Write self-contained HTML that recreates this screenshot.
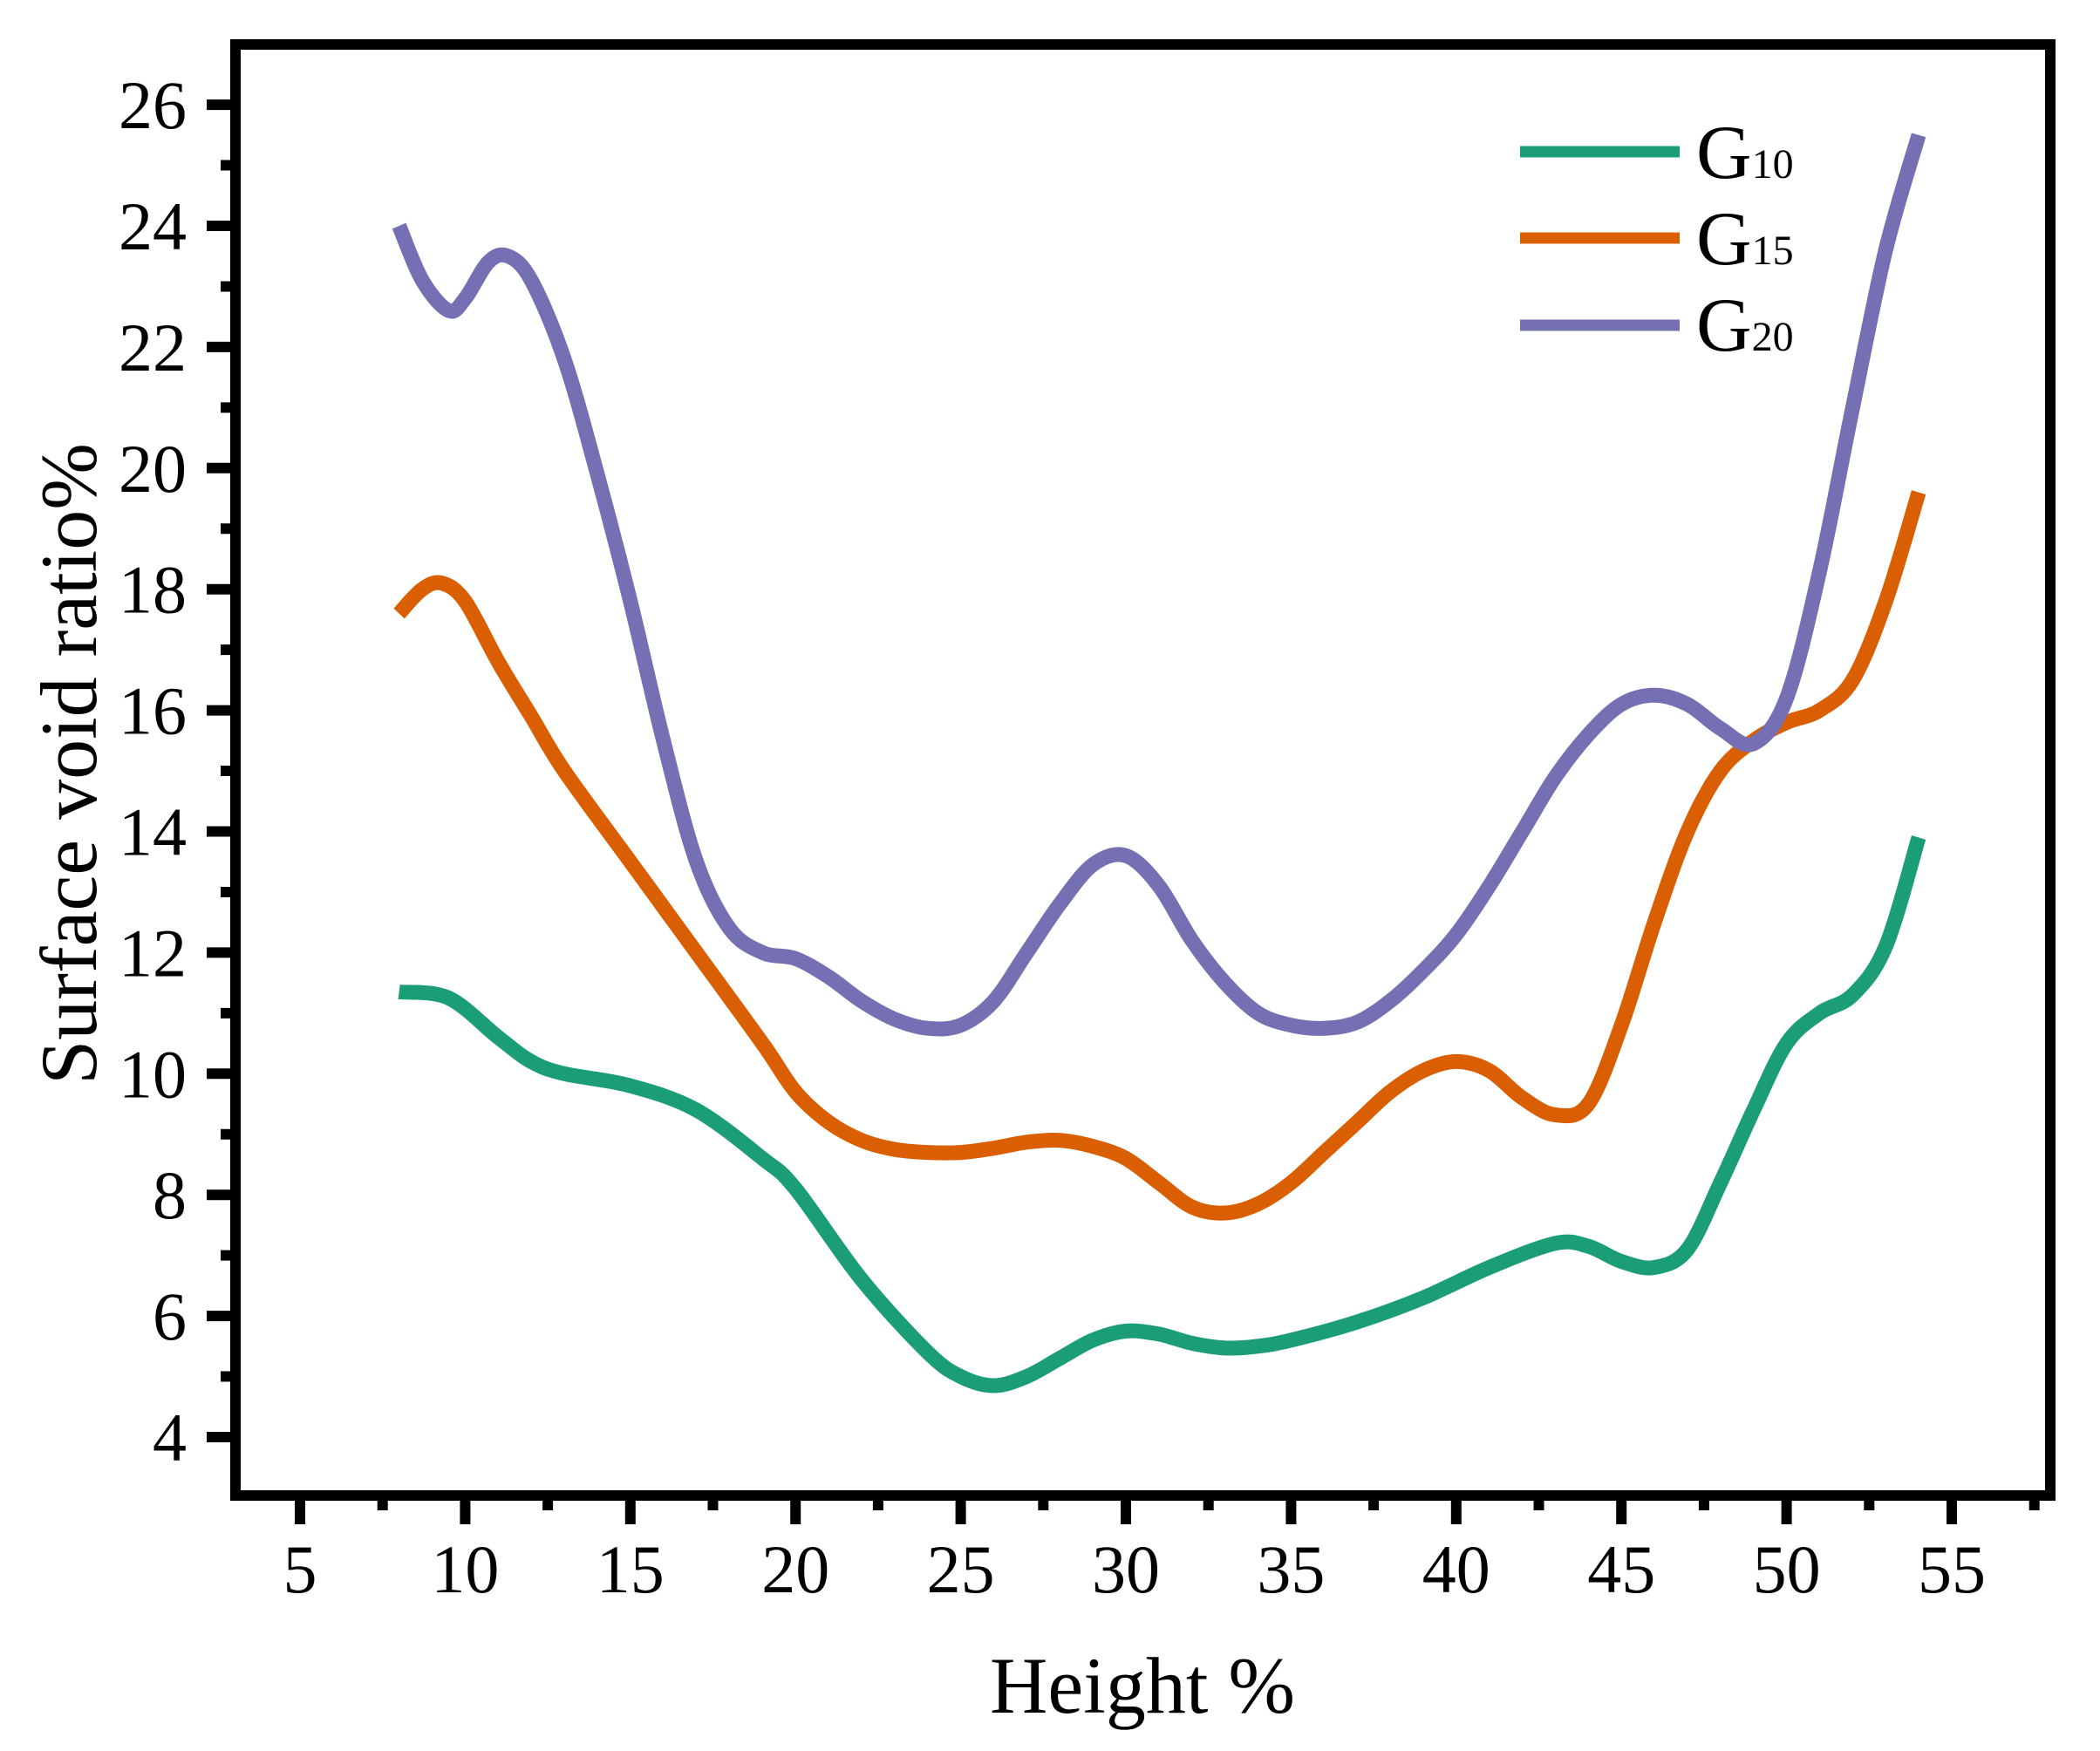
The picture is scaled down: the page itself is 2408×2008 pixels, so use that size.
<!DOCTYPE html>
<html><head><meta charset="utf-8">
<style>
html,body{margin:0;padding:0;background:#fff;}
svg{display:block;}
text{font-family:"Liberation Serif",serif;fill:#000;}
</style></head>
<body>
<svg id="s" width="2408" height="2008" viewBox="0 0 2408 2008" xmlns="http://www.w3.org/2000/svg">
<rect width="2408" height="2008" fill="#fff"/>
<g id="ticks"></g>
<g id="series" fill="none" stroke-width="17" stroke-linejoin="round"></g>
<rect x="270" y="51" width="2081" height="1664" fill="none" stroke="#000" stroke-width="12"/>
<g id="labels" font-size="78"></g>
<text x="1310" y="1964" font-size="92" text-anchor="middle">Height %</text>
<text transform="translate(110,876) rotate(-90)" font-size="92" text-anchor="middle">Surface void ratio%</text>
<g>
<line x1="1743" y1="174" x2="1926" y2="174" stroke="#1b9e77" stroke-width="13"/>
<line x1="1743" y1="273" x2="1926" y2="273" stroke="#d95f02" stroke-width="13"/>
<line x1="1743" y1="373" x2="1926" y2="373" stroke="#7570b3" stroke-width="13"/>
<text x="1945" y="204" font-size="88">G<tspan font-size="48">10</tspan></text>
<text x="1945" y="303" font-size="88">G<tspan font-size="48">15</tspan></text>
<text x="1945" y="402" font-size="88">G<tspan font-size="48">20</tspan></text>
</g>
</svg>
<script>
var NS="http://www.w3.org/2000/svg";
function X(v){return 344+(v-5)*37.88;}
function Y(v){return 1648-(v-4)*69.45;}
function el(t,a,p){var e=document.createElementNS(NS,t);for(var k in a)e.setAttribute(k,a[k]);p.appendChild(e);return e;}
var tg=document.getElementById('ticks'),lg=document.getElementById('labels');
for(var v=5;v<=55;v+=5){el('line',{x1:X(v),y1:1715,x2:X(v),y2:1748,stroke:'#000','stroke-width':12},tg);
 var t=el('text',{x:X(v),y:1826,'text-anchor':'middle'},lg);t.textContent=v;}
for(var v=7.5;v<=57.5;v+=5){el('line',{x1:X(v),y1:1715,x2:X(v),y2:1732,stroke:'#000','stroke-width':12},tg);}
for(var v=4;v<=26;v+=2){el('line',{x1:237,y1:Y(v),x2:270,y2:Y(v),stroke:'#000','stroke-width':12},tg);
 var t=el('text',{x:214,y:Y(v)+27,'text-anchor':'end'},lg);t.textContent=v;}
for(var v=5;v<=25;v+=2){el('line',{x1:253,y1:Y(v),x2:270,y2:Y(v),stroke:'#000','stroke-width':12},tg);}
var data={
'#1b9e77':[[8,11.35],[9.5,11.25],[11,10.6],[12,10.2],[13,10.0],[15,9.8],[17,9.4],[19,8.6],[20,8.1],[22,6.6],[24,5.4],[25,5.0],[26,4.85],[27,5.0],[28,5.3],[29,5.6],[30,5.75],[31,5.7],[32,5.55],[33,5.47],[34,5.5],[35,5.6],[37,5.9],[39,6.3],[41,6.8],[43,7.2],[44,7.15],[45,6.9],[46,6.8],[47,7.1],[48,8.2],[49,9.4],[50,10.5],[51,11.0],[52,11.3],[53,12.1],[54,13.9]],
'#d95f02':[[8,17.6],[8.7,18.0],[9.3,18.1],[10,17.8],[11,16.8],[12,15.9],[13,15.0],[15,13.5],[17,12.0],[19,10.5],[20,9.7],[21,9.2],[22,8.9],[23,8.75],[24,8.7],[25,8.7],[26,8.77],[27,8.87],[28,8.9],[29,8.8],[30,8.6],[31,8.2],[32,7.8],[33,7.7],[34,7.85],[35,8.2],[36,8.7],[37,9.2],[38,9.7],[39,10.05],[40,10.2],[41,10.05],[42,9.6],[43,9.32],[44,9.5],[45,10.8],[46,12.5],[47,14.0],[48,15.0],[49,15.5],[50,15.8],[51,16.0],[52,16.5],[53,17.8],[54,19.6]],
'#7570b3':[[8,24.0],[8.7,23.1],[9.5,22.6],[10,22.8],[10.7,23.4],[11.3,23.5],[12,23.1],[13,21.8],[14,19.9],[15,17.8],[16,15.5],[17,13.5],[18,12.4],[19,12.0],[20,11.9],[21,11.6],[22,11.2],[23,10.9],[24,10.75],[25,10.8],[26,11.2],[27,12.0],[28,12.8],[29,13.45],[30,13.6],[31,13.1],[32,12.2],[33,11.5],[34,11.0],[35,10.8],[36,10.75],[37,10.85],[38,11.2],[39,11.7],[40,12.3],[41,13.1],[42,14.0],[43,14.9],[44,15.6],[45,16.1],[46,16.25],[47,16.1],[48,15.7],[49,15.45],[50,16.2],[51,18.3],[52,21.0],[53,23.6],[54,25.5]]};
var sg=document.getElementById('series');
for(var c in data){var p=data[c].map(function(q){return [X(q[0]),Y(q[1])];});
 var d='M'+p[0][0].toFixed(1)+','+p[0][1].toFixed(1);
 for(var i=0;i<p.length-1;i++){var p0=p[i-1]||p[i],p1=p[i],p2=p[i+1],p3=p[i+2]||p2;
  var c1=[p1[0]+(p2[0]-p0[0])/6,p1[1]+(p2[1]-p0[1])/6],c2=[p2[0]-(p3[0]-p1[0])/6,p2[1]-(p3[1]-p1[1])/6];
  d+='C'+c1[0].toFixed(1)+','+c1[1].toFixed(1)+' '+c2[0].toFixed(1)+','+c2[1].toFixed(1)+' '+p2[0].toFixed(1)+','+p2[1].toFixed(1);}
 el('path',{d:d,stroke:c},sg);}
</script>
</body></html>
